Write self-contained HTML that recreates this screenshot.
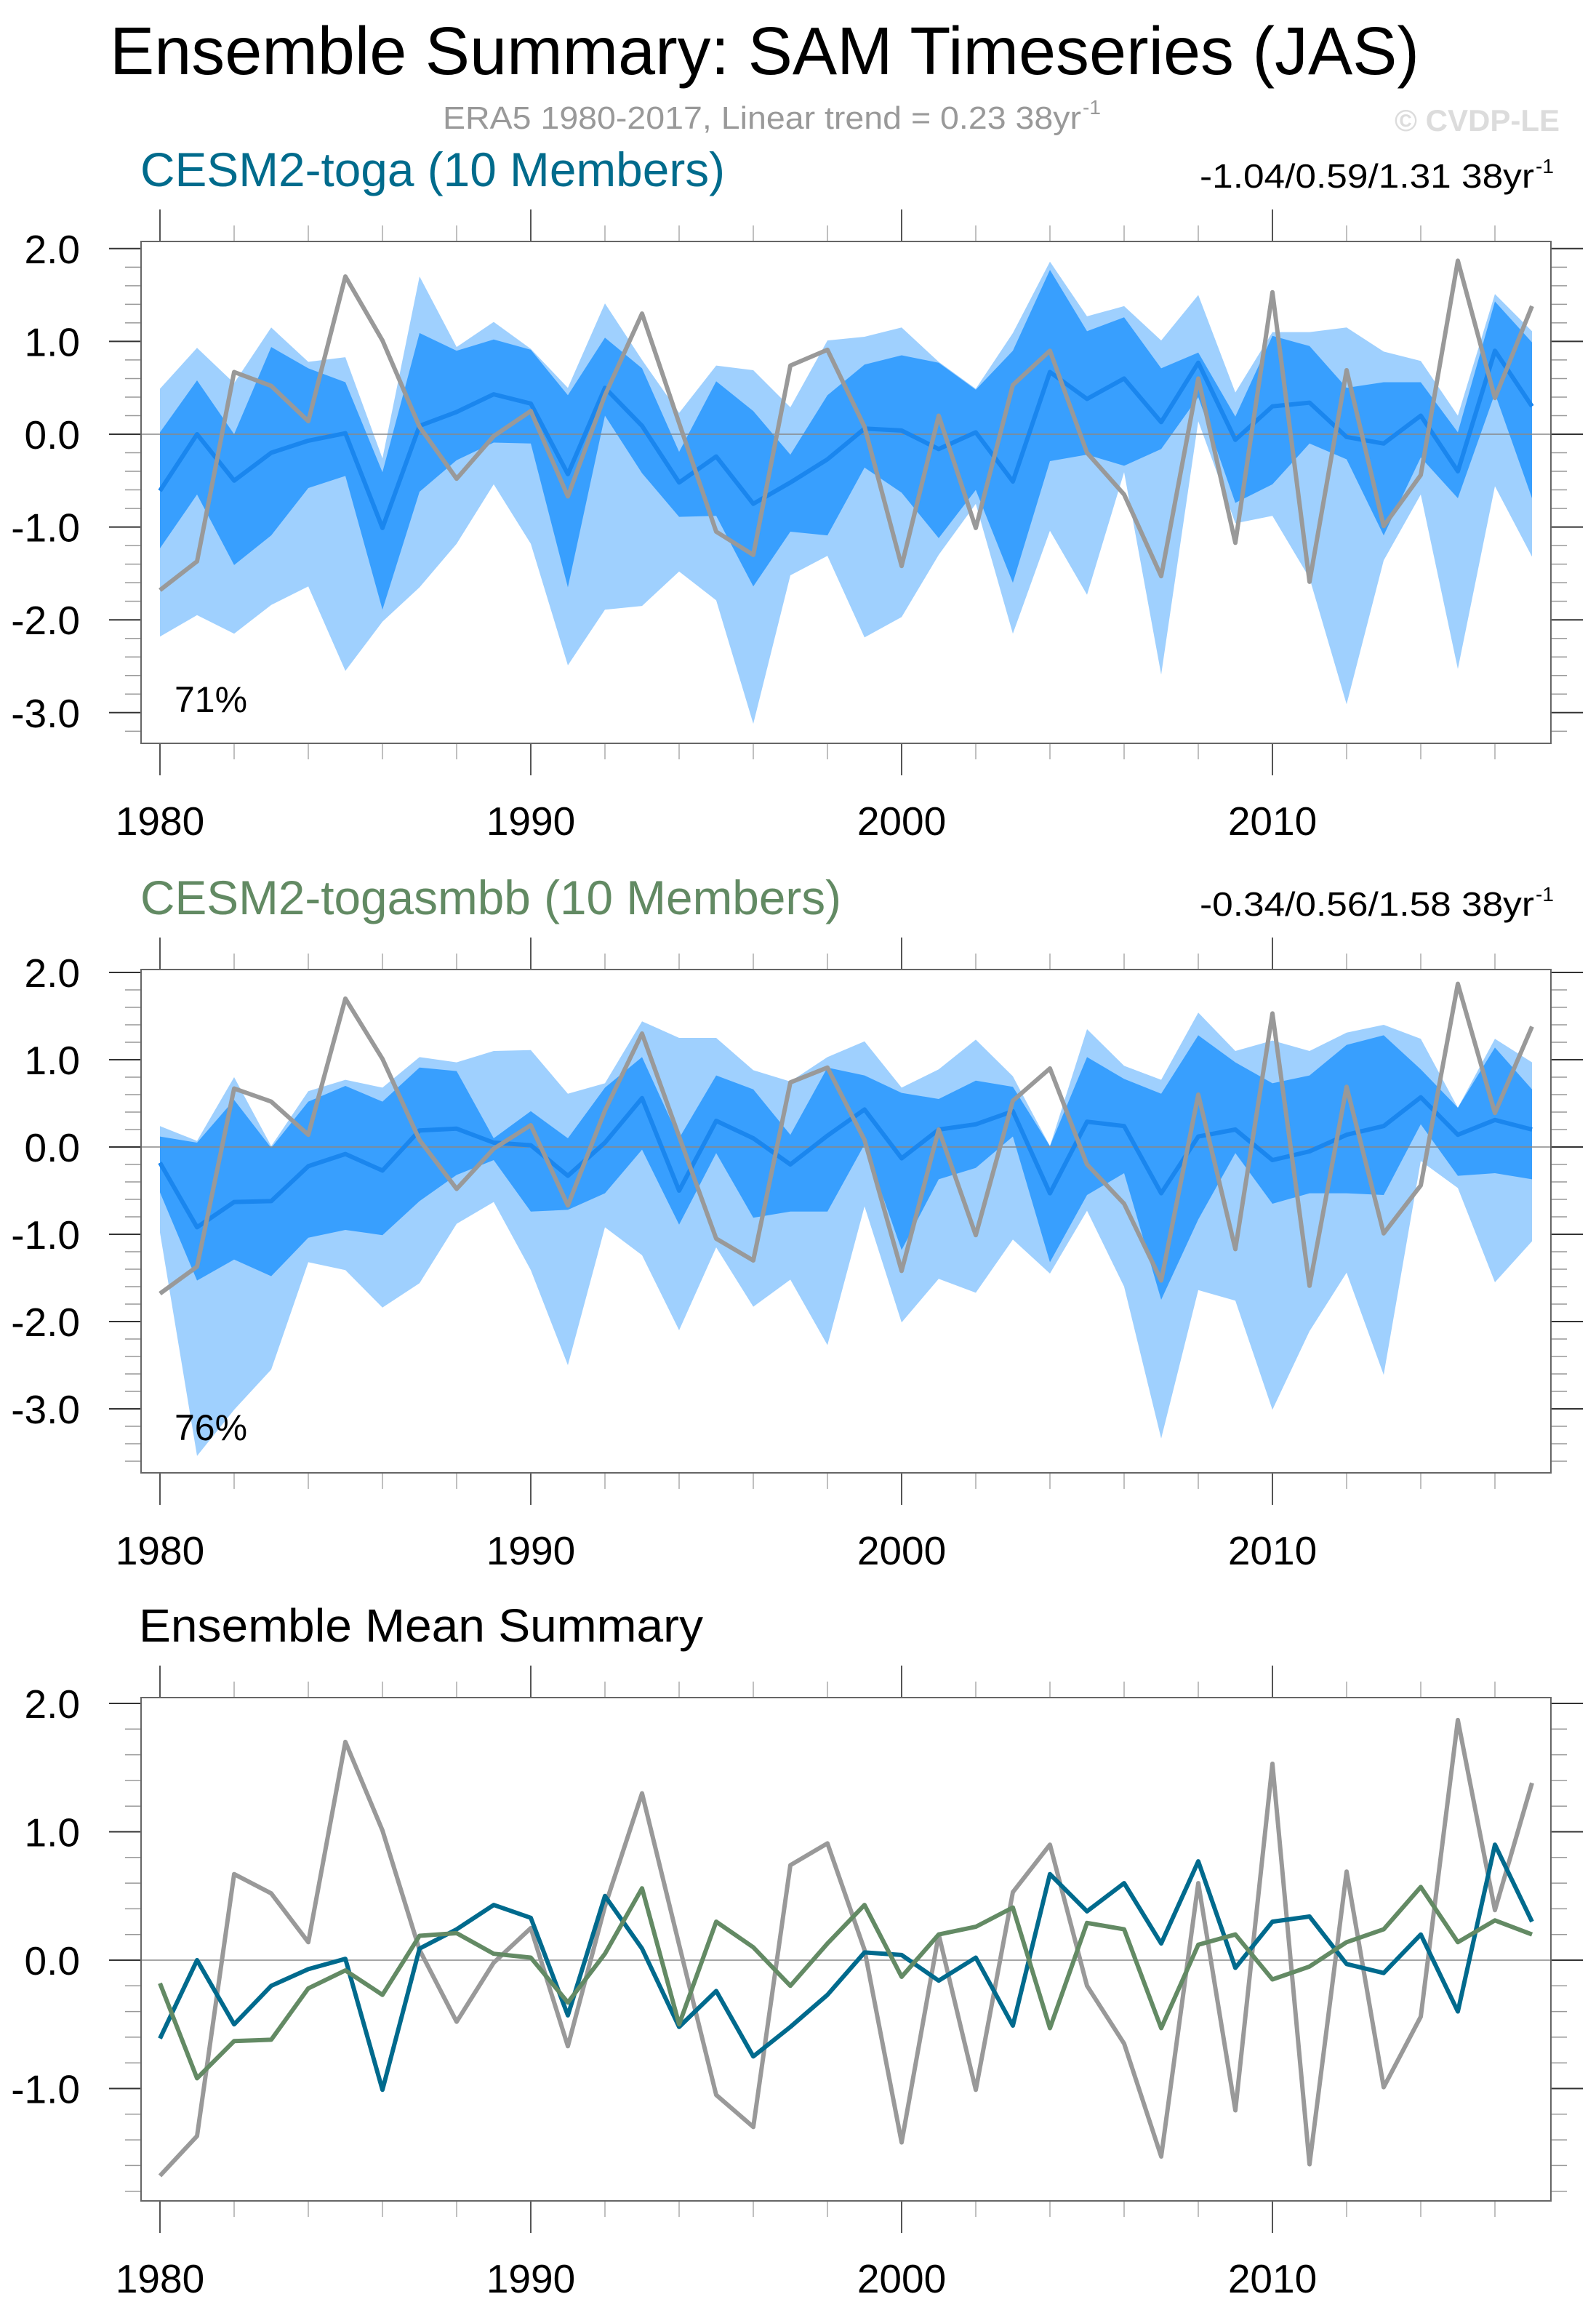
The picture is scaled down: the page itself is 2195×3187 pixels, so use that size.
<!DOCTYPE html>
<html><head><meta charset="utf-8"><title>Ensemble Summary: SAM Timeseries (JAS)</title>
<style>html,body{margin:0;padding:0;background:#fff}svg{display:block;font-family:"Liberation Sans",sans-serif}</style>
</head><body>
<svg id="chart" width="2195" height="3187" viewBox="0 0 2195 3187" xmlns="http://www.w3.org/2000/svg">
<rect x="0" y="0" width="2195" height="3187" fill="#fff"/>
<text x="151" y="102" font-size="93" fill="#000" textLength="1801" lengthAdjust="spacingAndGlyphs">Ensemble Summary: SAM Timeseries (JAS)</text>
<text x="609" y="177" font-size="44" fill="#999" textLength="878" lengthAdjust="spacingAndGlyphs">ERA5 1980-2017, Linear trend = 0.23 38yr</text>
<text x="1489" y="157" font-size="28" fill="#999">-1</text>
<text x="2145" y="180" font-size="42" font-weight="bold" fill="#dcdcdc" text-anchor="end">© CVDP-LE</text>

<text x="193" y="256" font-size="66" fill="#006b8c" textLength="804" lengthAdjust="spacingAndGlyphs">CESM2-toga (10 Members)</text>
<text x="1650" y="258" font-size="46" fill="#000" textLength="460" lengthAdjust="spacingAndGlyphs">-1.04/0.59/1.31 38yr</text>
<text x="2112" y="238" font-size="28" fill="#000">-1</text>

<text x="193" y="1257" font-size="66" fill="#628a63" textLength="964" lengthAdjust="spacingAndGlyphs">CESM2-togasmbb (10 Members)</text>
<text x="1650" y="1259" font-size="46" fill="#000" textLength="460" lengthAdjust="spacingAndGlyphs">-0.34/0.56/1.58 38yr</text>
<text x="2112" y="1239" font-size="28" fill="#000">-1</text>

<text x="191" y="2257" font-size="64" fill="#000" textLength="776" lengthAdjust="spacingAndGlyphs">Ensemble Mean Summary</text>
<g id="plots"></g>
</svg>
<script>
// ---------- data ----------
const years = [1980,1981,1982,1983,1984,1985,1986,1987,1988,1989,1990,1991,1992,1993,1994,1995,1996,1997,1998,1999,2000,2001,2002,2003,2004,2005,2006,2007,2008,2009,2010,2011,2012,2013,2014,2015,2016,2017];
const era5 = [-1.68,-1.37,0.67,0.52,0.14,1.70,1.01,0.08,-0.48,-0.02,0.25,-0.67,0.42,1.30,0.12,-1.05,-1.30,0.74,0.91,0.08,-1.42,0.2,-1.01,0.53,0.90,-0.2,-0.65,-1.53,0.6,-1.17,1.53,-1.59,0.69,-0.99,-0.44,1.87,0.39,1.38];
const togaMean = [-0.61,0.0,-0.5,-0.2,-0.07,0.01,-1.01,0.09,0.24,0.43,0.33,-0.43,0.5,0.09,-0.52,-0.24,-0.75,-0.52,-0.27,0.06,0.04,-0.16,0.02,-0.51,0.67,0.38,0.6,0.13,0.77,-0.06,0.30,0.34,-0.03,-0.1,0.2,-0.40,0.9,0.30];
const smbbMean = [-0.18,-0.92,-0.63,-0.62,-0.22,-0.08,-0.27,0.19,0.21,0.05,0.02,-0.33,0.05,0.56,-0.5,0.3,0.1,-0.2,0.13,0.43,-0.13,0.2,0.26,0.41,-0.53,0.29,0.24,-0.53,0.12,0.2,-0.15,-0.05,0.14,0.24,0.57,0.14,0.31,0.2];
const togaMax = [0.49,0.93,0.55,1.15,0.78,0.83,-0.26,1.70,0.94,1.21,0.92,0.50,1.41,0.80,0.23,0.74,0.69,0.29,1.01,1.05,1.15,0.78,0.49,1.09,1.86,1.27,1.38,1.01,1.50,0.45,1.10,1.10,1.15,0.89,0.79,0.20,1.51,1.11];
const togaHi = [0.02,0.58,0.0,0.94,0.71,0.56,-0.41,1.09,0.90,1.02,0.91,0.42,1.04,0.71,-0.19,0.57,0.25,-0.22,0.42,0.75,0.85,0.77,0.48,0.90,1.77,1.11,1.26,0.71,0.88,0.19,1.06,0.95,0.50,0.56,0.56,0.02,1.43,0.99];
const togaLo = [-1.23,-0.65,-1.41,-1.09,-0.58,-0.45,-1.89,-0.62,-0.28,-0.09,-0.10,-1.65,0.2,-0.42,-0.89,-0.88,-1.64,-1.05,-1.09,-0.36,-0.63,-1.12,-0.6,-1.60,-0.29,-0.22,-0.34,-0.16,0.4,-0.74,-0.54,-0.1,-0.27,-1.09,-0.25,-0.69,0.44,-0.69];
const togaMin = [-2.18,-1.95,-2.15,-1.84,-1.64,-2.55,-2.02,-1.65,-1.18,-0.54,-1.18,-2.49,-1.89,-1.85,-1.48,-1.79,-3.12,-1.52,-1.31,-2.19,-1.97,-1.30,-0.75,-2.15,-1.04,-1.73,-0.41,-2.59,0.14,-0.96,-0.88,-1.55,-2.91,-1.36,-0.65,-2.53,-0.56,-1.32];
const smbbMax = [0.24,0.07,0.80,0.01,0.64,0.77,0.68,1.03,0.97,1.10,1.11,0.61,0.73,1.44,1.25,1.25,0.88,0.75,1.03,1.21,0.68,0.89,1.23,0.81,0.01,1.35,0.93,0.77,1.54,1.10,1.22,1.10,1.31,1.40,1.24,0.45,1.24,0.97];
const smbbHi = [0.12,0.05,0.54,-0.01,0.52,0.70,0.52,0.91,0.87,0.10,0.41,0.10,0.68,1.03,0.10,0.82,0.66,0.14,0.91,0.82,0.62,0.55,0.76,0.69,0.01,1.03,0.78,0.61,1.28,0.97,0.73,0.82,1.17,1.28,0.89,0.45,1.14,0.66];
const smbbLo = [-0.52,-1.53,-1.29,-1.48,-1.04,-0.95,-1.01,-0.62,-0.32,-0.15,-0.74,-0.72,-0.53,-0.03,-0.89,-0.07,-0.81,-0.74,-0.74,0.03,-1.18,-0.37,-0.24,0.12,-1.32,-0.55,-0.30,-1.75,-0.83,-0.07,-0.65,-0.53,-0.53,-0.55,0.26,-0.33,-0.30,-0.37];
const smbbMin = [-0.98,-3.54,-3.01,-2.55,-1.32,-1.41,-1.84,-1.56,-0.88,-0.63,-1.41,-2.50,-0.92,-1.24,-2.10,-1.15,-1.83,-1.52,-2.27,-0.68,-2.01,-1.51,-1.67,-1.06,-1.45,-0.73,-1.60,-3.34,-1.64,-1.76,-3.01,-2.11,-1.44,-2.61,-0.16,-0.47,-1.55,-1.08];
const xTickYears = [1980,1990,2000,2010];
const xTickLabels = ["1980","1990","2000","2010"];
const p12YTicks = [2,1,0,-1,-2,-3];
const p12YLabels = ["2.0","1.0","0.0","-1.0","-2.0","-3.0"];
const p3YTicks = [2,1,0,-1];
const p3YLabels = ["2.0","1.0","0.0","-1.0"];
const pcts = ["71%","76%"];

// ---------- layout ----------
const NS = "http://www.w3.org/2000/svg";
const root = document.getElementById('plots');
const X0 = 220, DX = 51.0, BL = 194, BR = 2133;
function xs(yr){ return X0 + DX*(yr-1980); }
function mk(tag, attrs, parent){
  const e = document.createElementNS(NS, tag);
  for (const k in attrs) e.setAttribute(k, attrs[k]);
  (parent||root).appendChild(e);
  return e;
}
function linePts(ys, vals){ return vals.map((v,i)=>xs(years[i]).toFixed(1)+','+ys(v).toFixed(1)).join(' '); }
function bandPts(ys, up, lo){
  const a = up.map((v,i)=>xs(years[i]).toFixed(1)+','+ys(v).toFixed(1));
  const b = lo.map((v,i)=>xs(years[i]).toFixed(1)+','+ys(v).toFixed(1)).reverse();
  return a.concat(b).join(' ');
}
function axes(p, name, yt, yl){
  const g = p.g;
  const vmin = Math.ceil(p.vBottom*5)/5, vmax = Math.floor(p.vTop*5)/5;
  for (let k=Math.round(vmin*5); k<=Math.round(vmax*5); k++){
    const v = k/5, y = p.ys(v);
    const major = (k%5===0);
    const len = major?44:22;
    const t1 = mk('line',{x1:BL-len,x2:BL,y1:y,y2:y,stroke:major?'#333':'#999','stroke-width':major?2:1.5},g);
    
    
    const t2 = mk('line',{x1:BR,x2:BR+len,y1:y,y2:y,stroke:major?'#333':'#999','stroke-width':major?2:1.5},g);
    
    
  }
  yt.forEach((v,i)=>{
    const t = mk('text',{x:110,y:p.ys(v)+20,'font-size':55,'text-anchor':'end',fill:'#000'},g);
    t.textContent = yl[i];
    
    
  });
  for (let yr=1980; yr<=2018; yr+=2){
    const major = (yr%10===0);
    const len = major?44:22;
    const x = xs(yr);
    if (x > BR) continue;
    const a = mk('line',{x1:x,x2:x,y1:p.bottom,y2:p.bottom+len,stroke:major?'#555':'#aaa','stroke-width':major?2:1.5},g);
    
    
    const b = mk('line',{x1:x,x2:x,y1:p.top-len,y2:p.top,stroke:major?'#555':'#aaa','stroke-width':major?2:1.5},g);
    
    
  }
  xTickYears.forEach((yr,i)=>{
    const t = mk('text',{x:xs(yr),y:p.bottom+126,'font-size':55,'text-anchor':'middle',fill:'#000'},g);
    t.textContent = xTickLabels[i];
    
    
  });
  const fr = mk('rect',{x:BL,y:p.top,width:BR-BL,height:p.bottom-p.top,fill:'none',stroke:'#666','stroke-width':2},g);
  
  
}
function panel(name, top, bottom, zeroY, unit){
  const g = mk('g',{});
  
  
  const ys = v => zeroY - v*unit;
  return {g, top, bottom, ys, vTop:(zeroY-top)/unit, vBottom:-(bottom-zeroY)/unit};
}
function zeroLine(p, name){
  const z = mk('line',{x1:BL,x2:BR,y1:p.ys(0),y2:p.ys(0),stroke:'#888','stroke-width':1.5},p.g);
  
  
}
function ensemblePanel(name, p, mx, hi, lo, mn, mean, pct, pctY){
  const lb = mk('polygon',{points:bandPts(p.ys,mx,mn),fill:'#9fd0fe',stroke:'none'},p.g);
  
  
  const db = mk('polygon',{points:bandPts(p.ys,hi,lo),fill:'#389ffe',stroke:'none'},p.g);
  
  
  zeroLine(p, name);
  const ml = mk('polyline',{points:linePts(p.ys,mean),fill:'none',stroke:'#1a86ee','stroke-width':6,'stroke-linejoin':'round'},p.g);
  
  
  const ol = mk('polyline',{points:linePts(p.ys,era5),fill:'none',stroke:'#999','stroke-width':6,'stroke-linejoin':'round'},p.g);
  
  
  const t = mk('text',{x:240,y:pctY,'font-size':50,fill:'#000'},p.g);
  t.textContent = pct;
  
  
}

const p1 = panel('panel1-toga', 332, 1022, 597, 127.6);
ensemblePanel('panel1', p1, togaMax, togaHi, togaLo, togaMin, togaMean, pcts[0], 979);
axes(p1, 'panel1', p12YTicks, p12YLabels);

const p2 = panel('panel2-togasmbb', 1333, 2025, 1577, 120);
ensemblePanel('panel2', p2, smbbMax, smbbHi, smbbLo, smbbMin, smbbMean, pcts[1], 1980);
axes(p2, 'panel2', p12YTicks, p12YLabels);

const p3 = panel('panel3-mean-summary', 2334, 3026, 2695, 176.5);
zeroLine(p3, 'panel3');
const g3a = mk('polyline',{points:linePts(p3.ys,era5),fill:'none',stroke:'#999','stroke-width':6,'stroke-linejoin':'round'},p3.g);


const g3b = mk('polyline',{points:linePts(p3.ys,togaMean),fill:'none',stroke:'#006a8d','stroke-width':6,'stroke-linejoin':'round'},p3.g);


const g3c = mk('polyline',{points:linePts(p3.ys,smbbMean),fill:'none',stroke:'#638a64','stroke-width':6,'stroke-linejoin':'round'},p3.g);


axes(p3, 'panel3', p3YTicks, p3YLabels);
</script>
</body></html>
